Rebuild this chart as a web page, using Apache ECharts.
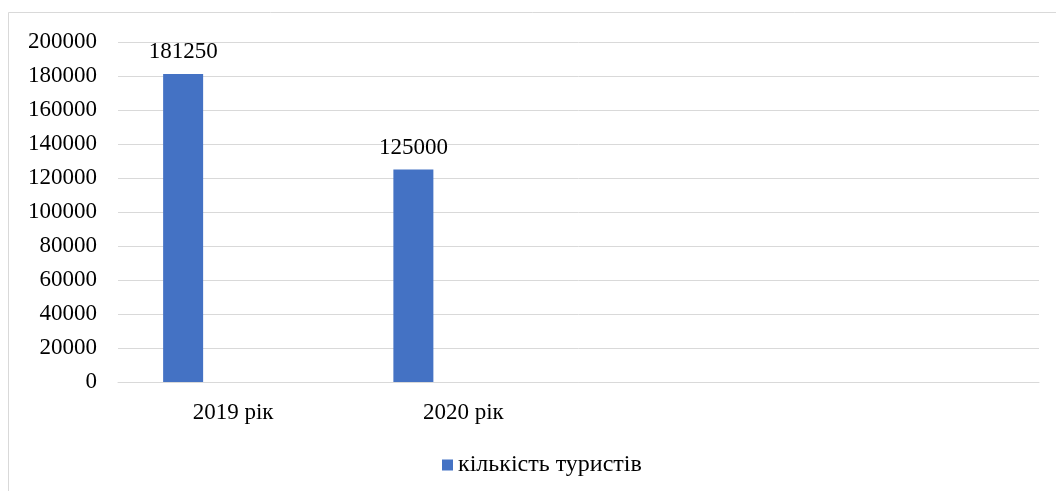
<!DOCTYPE html>
<html lang="uk">
<head>
<meta charset="UTF-8">
<title>кількість туристів</title>
<script src="https://cdn.jsdelivr.net/npm/echarts@6/dist/echarts.min.js"></script>
<style>
  html, body { margin: 0; padding: 0; background: #fff; }
  #main { width: 1056px; height: 491px; }
</style>
</head>
<body>
<div id="main"></div>
<script>
// дані
var categories = ['2019 рік', '2020 рік', '', ''];
var tourists = [181250, 125000, null, null];
var emptyValues = [null, null, null, null];
var seriesName = 'кількість туристів';

var font = '"Liberation Serif", "Times New Roman", serif';
var fs = 23;
var myChart = echarts.init(document.getElementById('main'));

myChart.setOption({
    backgroundColor: '#fff',
    animation: false,
    graphic: [{
        type: 'rect',
        shape: { x: 8.5, y: 12.5, width: 1200, height: 700 },
        style: { fill: 'none', stroke: '#d9d9d9', lineWidth: 1 },
        silent: true
    }],
    grid: { left: 118, right: 17, top: 42, bottom: 109 },
    legend: {
        data: [{ name: seriesName, icon: 'rect' }],
        left: 442,
        top: 453,
        padding: 0,
        itemWidth: 11,
        itemHeight: 11,
        itemGap: 5,
        textStyle: { fontFamily: font, fontSize: 24, color: '#000', padding: [0, 0, 0, 0] }
    },
    xAxis: {
        type: 'category',
        data: categories,
        axisLine: { lineStyle: { color: '#d9d9d9' } },
        axisTick: { show: false },
        axisLabel: { fontFamily: font, fontSize: fs, color: '#000', margin: 19 }
    },
    yAxis: {
        type: 'value',
        min: 0,
        max: 200000,
        interval: 20000,
        axisLine: { show: false },
        axisTick: { show: false },
        splitLine: { lineStyle: { color: '#d9d9d9' } },
        axisLabel: {
            fontFamily: font, fontSize: fs, color: '#000', margin: 21,
            formatter: function (v) { return String(v); }
        }
    },
    series: [{
        name: seriesName,
        type: 'bar',
        data: tourists,
        barWidth: 40,
        barGap: '25%',
        itemStyle: { color: '#4472c4' },
        label: {
            show: true,
            position: 'top',
            distance: 10,
            fontFamily: font,
            fontSize: fs,
            color: '#000'
        }
    }, {
        name: 'empty1',
        type: 'bar',
        data: emptyValues,
        barWidth: 40,
        barGap: '25%'
    }, {
        name: 'empty2',
        type: 'bar',
        data: emptyValues,
        barWidth: 40,
        barGap: '25%'
    }]
});
</script>
</body>
</html>
